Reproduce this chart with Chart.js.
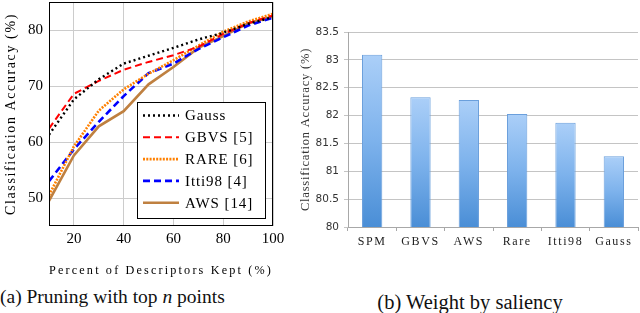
<!DOCTYPE html>
<html>
<head>
<meta charset="utf-8">
<script src="https://cdn.jsdelivr.net/npm/chart.js@4.4.1/dist/chart.umd.min.js"></script>
<style>
  body { margin: 0; width: 640px; height: 313px; background: #fff; position: relative; overflow: hidden; font-family: "Liberation Serif", serif; }
  #left { position: absolute; left: 0; top: 0; width: 290px; height: 282px; }
  #right { position: absolute; left: 290px; top: 0; width: 350px; height: 282px; }
  .cap { position: absolute; color: #111; white-space: nowrap; line-height: 20px; }
</style>
</head>
<body>
<div id="left"><canvas id="pruneChart"></canvas></div>
<div id="right"><canvas id="weightChart"></canvas></div>
<div class="cap" style="left:0;top:287px;font-size:19.5px">(a) Pruning with top <i>n</i> points</div>
<div class="cap" style="left:290px;width:360px;text-align:center;top:292px;font-size:20.5px">(b) Weight by saliency</div>
<script>
// Datos del gráfico (a): precisión según el porcentaje de descriptores
const percentKept = [10, 20, 30, 40, 50, 60, 70, 80, 90, 100];
const gauss = [61.3, 67.6, 71.2, 74.0, 75.4, 76.8, 78.3, 79.5, 81.1, 82.3];
const gbvs  = [62.4, 68.6, 70.9, 72.9, 74.3, 75.5, 77.0, 79.3, 81.2, 82.6];
const rare  = [50.5, 59.2, 65.6, 69.4, 72.2, 74.6, 77.2, 79.7, 81.5, 82.9];
const itti  = [53.0, 58.7, 63.6, 68.2, 72.3, 74.0, 76.6, 78.7, 80.8, 82.2];
const aws   = [49.5, 57.6, 62.8, 65.5, 70.3, 73.4, 76.8, 78.9, 81.2, 82.4];
const xTicksA = [20, 40, 60, 80, 100];
const yTicksA = [50, 60, 70, 80];

// Datos del gráfico (b): ponderación por saliencia
const methods = ['SPM', 'GBVS', 'AWS', 'Rare', 'Itti98', 'Gauss'];
const accuracy = [83.09, 82.33, 82.28, 82.03, 81.87, 81.27];
const yTicksB = [80, 80.5, 81, 81.5, 82, 82.5, 83, 83.5];

const serif = '"Liberation Serif", serif';
const sans = '"DejaVu Sans", sans-serif';

function points(ys) {
    return percentKept.map((x, i) => ({ x: x, y: ys[i] }));
}

// Espaciado entre letras para títulos y etiquetas (el original usa Computer Modern, más ancha)
const letterSpacing = {
    id: 'letterSpacing',
    beforeDraw(chart, args, opts) {
        Object.values(chart.scales).forEach(scale => {
            const cfg = opts[scale.id];
            if (!cfg || scale._spaced) return;
            ['drawTitle', 'drawLabels'].forEach(fn => {
                const key = fn === 'drawTitle' ? 'title' : 'labels';
                if (!cfg[key]) return;
                const orig = scale[fn];
                scale[fn] = function() {
                    this.ctx.letterSpacing = cfg[key];
                    orig.apply(this, arguments);
                    this.ctx.letterSpacing = '0px';
                };
            });
            scale._spaced = true;
        });
    }
};

// Leyenda con recuadro dentro del área del gráfico, abajo a la derecha
const legendBox = {
    id: 'legendBox',
    afterDatasetsDraw(chart) {
        const { ctx, chartArea } = chart;
        const w = 128, h = 116;
        const x0 = chartArea.right - 8 - w;
        const y0 = chartArea.bottom - 8 - h;
        ctx.save();
        ctx.fillStyle = '#fff';
        ctx.fillRect(x0, y0, w, h);
        ctx.strokeStyle = '#000';
        ctx.lineWidth = 1;
        ctx.strokeRect(x0 + 0.5, y0 + 0.5, w, h);
        ctx.font = '15px ' + serif;
        ctx.letterSpacing = '0.9px';
        ctx.textBaseline = 'middle';
        chart.data.datasets.forEach((ds, i) => {
            const y = y0 + 13.5 + i * 21.8;
            ctx.beginPath();
            ctx.strokeStyle = ds.borderColor;
            ctx.lineWidth = ds.borderWidth;
            ctx.setLineDash(ds.borderDash || []);
            ctx.moveTo(x0 + 6, y);
            ctx.lineTo(x0 + 42, y);
            ctx.stroke();
            ctx.setLineDash([]);
            ctx.fillStyle = '#000';
            ctx.fillText(ds.label, x0 + 48, y + 1);
        });
        ctx.letterSpacing = '0px';
        ctx.restore();
    },
    afterDraw(chart) {
        const { ctx, chartArea } = chart;
        ctx.save();
        ctx.strokeStyle = '#000';
        ctx.lineWidth = 1;
        ctx.strokeRect(chartArea.left + 0.5, chartArea.top + 0.5,
            chartArea.right - chartArea.left - 1, chartArea.bottom - chartArea.top - 1);
        ctx.restore();
    }
};

// Degradado vertical por barra: claro arriba, más oscuro abajo
function barGradient(context) {
    const chart = context.chart;
    const area = chart.chartArea;
    if (!area) return '#7fb2ea';
    const top = chart.scales.y.getPixelForValue(context.raw);
    const g = chart.ctx.createLinearGradient(0, top, 0, area.bottom);
    g.addColorStop(0, '#abcff8');
    g.addColorStop(0.5, '#7db2ec');
    g.addColorStop(1, '#4a8ed6');
    return g;
}

function drawCharts() {
    new Chart(document.getElementById('pruneChart'), {
        type: 'line',
        data: {
            datasets: [
                { label: 'Gauss', data: points(gauss), borderColor: '#000', borderWidth: 2.4, borderDash: [2, 3] },
                { label: 'GBVS [5]', data: points(gbvs), borderColor: '#ff0000', borderWidth: 2, borderDash: [7, 4] },
                { label: 'RARE [6]', data: points(rare), borderColor: '#ff8000', borderWidth: 2.6, borderDash: [2, 1.3] },
                { label: 'Itti98 [4]', data: points(itti), borderColor: '#0000ff', borderWidth: 2.6, borderDash: [7, 4] },
                { label: 'AWS [14]', data: points(aws), borderColor: '#bf8040', borderWidth: 2.6 }
            ]
        },
        options: {
            responsive: true,
            maintainAspectRatio: false,
            animation: false,
            layout: { padding: { top: 2, right: 17, left: 0, bottom: 0 } },
            elements: { point: { radius: 0 }, line: { tension: 0 } },
            plugins: {
                legend: { display: false },
                tooltip: { enabled: false },
                letterSpacing: { x: { title: '2.2px' }, y: { title: '1.6px' } }
            },
            scales: {
                x: {
                    type: 'linear',
                    min: 10,
                    max: 100,
                    afterBuildTicks: scale => { scale.ticks = xTicksA.map(v => ({ value: v })); },
                    afterFit: scale => { scale.height = 56; scale.paddingLeft = 0; scale.paddingRight = 0; },
                    grid: { color: '#cccccc', drawTicks: false },
                    border: { display: false },
                    ticks: { color: '#000', padding: 4, font: { family: serif, size: 15 } },
                    title: {
                        display: true,
                        text: 'Percent of Descriptors Kept (%)',
                        color: '#000',
                        padding: { top: 0, bottom: 4 },
                        font: { family: serif, size: 12.5 }
                    }
                },
                y: {
                    min: 45,
                    max: 85,
                    afterBuildTicks: scale => { scale.ticks = yTicksA.map(v => ({ value: v })); },
                    afterFit: scale => { scale.width = 49; scale.paddingTop = 0; scale.paddingBottom = 0; },
                    grid: { color: '#cccccc', drawTicks: false },
                    border: { display: false },
                    ticks: { color: '#000', padding: 6, font: { family: serif, size: 15 } },
                    title: {
                        display: true,
                        text: 'Classification Accuracy (%)',
                        color: '#000',
                        padding: { top: 3, bottom: 0 },
                        font: { family: serif, size: 14 }
                    }
                }
            }
        },
        plugins: [legendBox, letterSpacing]
    });

    new Chart(document.getElementById('weightChart'), {
        type: 'bar',
        data: {
            labels: methods,
            datasets: [{
                label: 'Classification Accuracy (%)',
                data: accuracy,
                backgroundColor: barGradient,
                borderColor: '#6a9fdc',
                borderWidth: 1,
                barPercentage: 0.42,
                categoryPercentage: 1.0
            }]
        },
        options: {
            responsive: true,
            maintainAspectRatio: false,
            animation: false,
            layout: { padding: { top: 32, right: 2, left: 0, bottom: 0 } },
            plugins: {
                legend: { display: false },
                tooltip: { enabled: false },
                letterSpacing: { x: { labels: '1.6px' }, y: { title: '0.8px' } }
            },
            scales: {
                x: {
                    afterFit: scale => { scale.height = 55; scale.paddingLeft = 0; scale.paddingRight = 0; },
                    grid: { display: true, drawOnChartArea: false, drawTicks: true, tickLength: 4, color: '#a8a8a8' },
                    border: { color: '#a8a8a8' },
                    ticks: { color: '#222', padding: 4, font: { family: serif, size: 12 } }
                },
                y: {
                    min: 80,
                    max: 83.5,
                    afterBuildTicks: scale => { scale.ticks = yTicksB.map(v => ({ value: v })); },
                    afterFit: scale => { scale.width = 58; scale.paddingTop = 0; scale.paddingBottom = 0; },
                    grid: { color: '#c4c4c4', tickLength: 4 },
                    border: { color: '#a8a8a8' },
                    ticks: {
                        color: '#333',
                        padding: 5,
                        font: { family: sans, size: 10.5 },
                        callback: value => String(value)
                    },
                    title: {
                        display: true,
                        text: 'Classification Accuracy (%)',
                        color: '#333',
                        padding: { top: 8, bottom: 0 },
                        font: { family: serif, size: 12.5 }
                    }
                }
            }
        },
        plugins: [letterSpacing]
    });
}

// Esperar a que las fuentes estén disponibles antes de dibujar en el canvas
Promise.all([
    document.fonts.load('15px "Liberation Serif"'),
    document.fonts.load('11px "DejaVu Sans"')
]).catch(() => {}).then(drawCharts);
</script>
</body>
</html>
